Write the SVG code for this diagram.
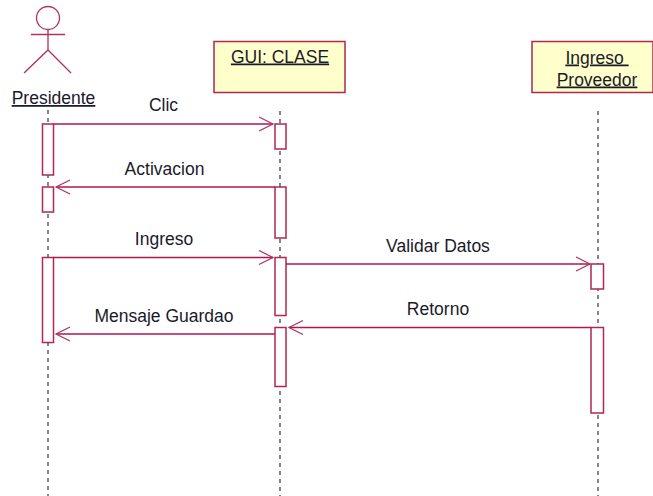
<svg xmlns="http://www.w3.org/2000/svg" width="653" height="496" viewBox="0 0 653 496">
<defs>
<marker id="open" markerUnits="userSpaceOnUse" markerWidth="18" markerHeight="18" refX="15" refY="8" orient="auto" viewBox="0 0 18 18">
<path d="M1 1 L15 8 L1 15" fill="none" stroke="#b03060" stroke-width="1.2"/>
</marker>
</defs>
<style>
text{font-family:"Liberation Sans",Arial,sans-serif;font-size:17.5px;fill:#1a1a2a}
.u{text-decoration:underline}
.box{fill:#ffffcc;stroke:#b0274f;stroke-width:1.5}
.act{fill:#fff;stroke:#b0274f;stroke-width:1.5}
.life{stroke:#444;stroke-width:1.3;stroke-dasharray:4 4;fill:none}
.msg{stroke:#b0174f;stroke-width:1.4;fill:none;marker-end:url(#open)}
.stick{stroke:#b03060;stroke-width:1.3;fill:none}
</style>
<rect width="653" height="496" fill="#fff"/>
<g id="lifelines">
<line class="life" x1="48" y1="110" x2="48" y2="496"/>
<line class="life" x1="280" y1="111" x2="280" y2="496"/>
<line class="life" x1="598" y1="111" x2="598" y2="496"/>
</g>
<g id="node-presidente">
<circle class="stick" cx="48" cy="18" r="11.5"/>
<path class="stick" d="M31 34.5H65M48 29.500V50M24 73L48 50L71 73"/>
<text class="u" x="53.500" y="104" text-anchor="middle">Presidente</text>
<rect class="act" x="42.500" y="124" width="11" height="51"/>
<rect class="act" x="42.500" y="187" width="11" height="25"/>
<rect class="act" x="42.500" y="257.500" width="11" height="85"/>
</g>
<g id="node-gui">
<rect class="box" x="214" y="41.500" width="131" height="51"/>
<text class="u" x="280" y="62.500" text-anchor="middle">GUI: CLASE</text>
<rect class="act" x="275" y="124" width="11" height="25"/>
<rect class="act" x="275" y="187" width="11" height="51"/>
<rect class="act" x="275" y="257.500" width="11" height="58"/>
<rect class="act" x="275" y="327.500" width="11" height="59"/>
</g>
<g id="node-proveedor">
<rect class="box" x="532" y="41.500" width="121" height="51"/>
<text class="u" x="597" y="63.500" text-anchor="middle" xml:space="preserve">Ingreso </text>
<text class="u" x="597" y="85.500" text-anchor="middle">Proveedor</text>
<rect class="act" x="591" y="264" width="12.500" height="25"/>
<rect class="act" x="591" y="327.500" width="12.500" height="85.500"/>
</g>
<g id="connectors">
<line class="msg" x1="53.500" y1="124" x2="273" y2="124"/>
<line class="msg" x1="275" y1="187" x2="56" y2="187"/>
<line class="msg" x1="53.500" y1="257.500" x2="273" y2="257.500"/>
<line class="msg" x1="286" y1="264" x2="590" y2="264"/>
<line class="msg" x1="591" y1="327.500" x2="289" y2="327.500"/>
<line class="msg" x1="275" y1="334" x2="56" y2="334"/>
</g>
<g id="labels">
<text x="163.500" y="111" text-anchor="middle">Clic</text>
<text x="164.500" y="174.500" text-anchor="middle">Activacion</text>
<text x="164" y="244.500" text-anchor="middle">Ingreso</text>
<text x="438" y="251.500" text-anchor="middle">Validar Datos</text>
<text x="438" y="314.500" text-anchor="middle">Retorno</text>
<text x="164" y="321.500" text-anchor="middle">Mensaje Guardao</text>
</g>
</svg>
